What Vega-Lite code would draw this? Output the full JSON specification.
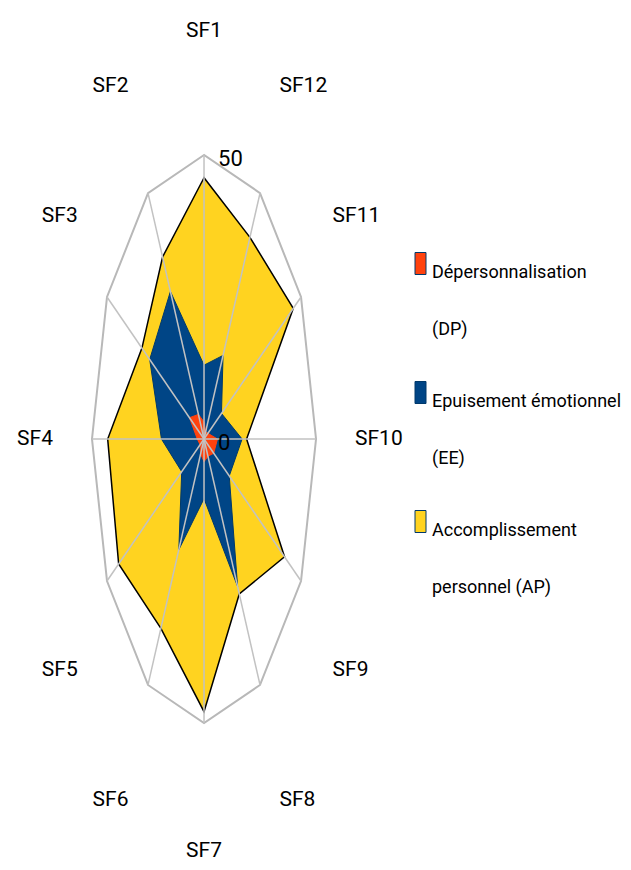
{
  "$schema": "https://vega.github.io/schema/vega-lite/v6.json",
  "width": 631,
  "height": 870,
  "autosize": {"type": "none"},
  "padding": 0,
  "background": "white",
  "config": {
    "view": {"stroke": null},
    "font": "Roboto",
    "style": {"guide-label": {"lineHeight": 57}}
  },
  "datasets": {
    "axes": [
      {"axis": "SF1", "k": 1}, {"axis": "SF2", "k": 2}, {"axis": "SF3", "k": 3},
      {"axis": "SF4", "k": 4}, {"axis": "SF5", "k": 5}, {"axis": "SF6", "k": 6},
      {"axis": "SF7", "k": 7}, {"axis": "SF8", "k": 8}, {"axis": "SF9", "k": 9},
      {"axis": "SF10", "k": 10}, {"axis": "SF11", "k": 11}, {"axis": "SF12", "k": 12}
    ],
    "ticks": [{"t": "0", "v": 0}, {"t": "50", "v": 50}],
    "scores": [
      {"series": "Accomplissement personnel (AP)", "axis": "SF1", "k": 1, "v": 46},
      {"series": "Accomplissement personnel (AP)", "axis": "SF2", "k": 2, "v": 37},
      {"series": "Accomplissement personnel (AP)", "axis": "SF3", "k": 3, "v": 32},
      {"series": "Accomplissement personnel (AP)", "axis": "SF4", "k": 4, "v": 43},
      {"series": "Accomplissement personnel (AP)", "axis": "SF5", "k": 5, "v": 44},
      {"series": "Accomplissement personnel (AP)", "axis": "SF6", "k": 6, "v": 38.5},
      {"series": "Accomplissement personnel (AP)", "axis": "SF7", "k": 7, "v": 48},
      {"series": "Accomplissement personnel (AP)", "axis": "SF8", "k": 8, "v": 31.5},
      {"series": "Accomplissement personnel (AP)", "axis": "SF9", "k": 9, "v": 41.5},
      {"series": "Accomplissement personnel (AP)", "axis": "SF10", "k": 10, "v": 19},
      {"series": "Accomplissement personnel (AP)", "axis": "SF11", "k": 11, "v": 46},
      {"series": "Accomplissement personnel (AP)", "axis": "SF12", "k": 12, "v": 41},
      {"series": "Epuisement émotionnel (EE)", "axis": "SF1", "k": 1, "v": 13},
      {"series": "Epuisement émotionnel (EE)", "axis": "SF2", "k": 2, "v": 30},
      {"series": "Epuisement émotionnel (EE)", "axis": "SF3", "k": 3, "v": 28},
      {"series": "Epuisement émotionnel (EE)", "axis": "SF4", "k": 4, "v": 19},
      {"series": "Epuisement émotionnel (EE)", "axis": "SF5", "k": 5, "v": 11.5},
      {"series": "Epuisement émotionnel (EE)", "axis": "SF6", "k": 6, "v": 22.5},
      {"series": "Epuisement émotionnel (EE)", "axis": "SF7", "k": 7, "v": 10.5},
      {"series": "Epuisement émotionnel (EE)", "axis": "SF8", "k": 8, "v": 30},
      {"series": "Epuisement émotionnel (EE)", "axis": "SF9", "k": 9, "v": 13},
      {"series": "Epuisement émotionnel (EE)", "axis": "SF10", "k": 10, "v": 17},
      {"series": "Epuisement émotionnel (EE)", "axis": "SF11", "k": 11, "v": 9},
      {"series": "Epuisement émotionnel (EE)", "axis": "SF12", "k": 12, "v": 17},
      {"series": "Dépersonnalisation (DP)", "axis": "SF1", "k": 1, "v": 3},
      {"series": "Dépersonnalisation (DP)", "axis": "SF2", "k": 2, "v": 5},
      {"series": "Dépersonnalisation (DP)", "axis": "SF3", "k": 3, "v": 7.5},
      {"series": "Dépersonnalisation (DP)", "axis": "SF4", "k": 4, "v": 3},
      {"series": "Dépersonnalisation (DP)", "axis": "SF5", "k": 5, "v": 2},
      {"series": "Dépersonnalisation (DP)", "axis": "SF6", "k": 6, "v": 3},
      {"series": "Dépersonnalisation (DP)", "axis": "SF7", "k": 7, "v": 4},
      {"series": "Dépersonnalisation (DP)", "axis": "SF8", "k": 8, "v": 3.5},
      {"series": "Dépersonnalisation (DP)", "axis": "SF9", "k": 9, "v": 5},
      {"series": "Dépersonnalisation (DP)", "axis": "SF10", "k": 10, "v": 6},
      {"series": "Dépersonnalisation (DP)", "axis": "SF11", "k": 11, "v": 2},
      {"series": "Dépersonnalisation (DP)", "axis": "SF12", "k": 12, "v": 1.5}
    ]
  },
  "layer": [
    {
      "data": {"name": "axes"},
      "transform": [
        {"calculate": "-(datum.k - 1) * PI / 6", "as": "a"},
        {"calculate": "50 * sin(datum.a)", "as": "ox"},
        {"calculate": "50 * cos(datum.a)", "as": "oy"}
      ],
      "mark": {"type": "line", "interpolate": "linear-closed", "stroke": "#b8b8b8", "strokeWidth": 2},
      "encoding": {
        "x": {"field": "ox", "type": "quantitative", "scale": {"domain": [-91.07, 190.6], "nice": false, "zero": false}, "axis": null},
        "y": {"field": "oy", "type": "quantitative", "scale": {"domain": [-75.88, 77.29], "nice": false, "zero": false}, "axis": null},
        "order": {"field": "k", "type": "quantitative"}
      }
    },
    {
      "data": {"name": "scores"},
      "transform": [
        {"filter": "datum.series == 'Accomplissement personnel (AP)'"},
        {"calculate": "-(datum.k - 1) * PI / 6", "as": "a"},
        {"calculate": "datum.v * sin(datum.a)", "as": "px"},
        {"calculate": "datum.v * cos(datum.a)", "as": "py"}
      ],
      "mark": {"type": "line", "interpolate": "linear-closed", "stroke": "#000000", "strokeWidth": 1.5},
      "encoding": {
        "x": {"field": "px", "type": "quantitative", "scale": {"domain": [-91.07, 190.6], "nice": false, "zero": false}, "axis": null},
        "y": {"field": "py", "type": "quantitative", "scale": {"domain": [-75.88, 77.29], "nice": false, "zero": false}, "axis": null},
        "order": {"field": "k", "type": "quantitative"},
        "fill": {
          "field": "series", "type": "nominal",
          "scale": {"domain": ["Dépersonnalisation (DP)", "Epuisement émotionnel (EE)", "Accomplissement personnel (AP)"], "range": ["#FF420E", "#004586", "#FFD320"]},
          "legend": {
            "orient": "none", "legendX": 409, "legendY": 252, "title": null,
            "symbolType": "M-0.5,-1H0.5V1H-0.5Z", "symbolSize": 484,
            "symbolStrokeColor": "#333333", "symbolStrokeWidth": 1, "symbolOpacity": 1,
            "labelFont": "Roboto", "labelFontSize": 18, "labelColor": "#000000",
            "labelLimit": 400, "labelBaseline": "top", "labelOffset": 0, "rowPadding": 40,
            "labelExpr": "datum.label == 'Accomplissement personnel (AP)' ? ['Accomplissement', 'personnel (AP)'] : [slice(datum.label, 0, lastindexof(datum.label, ' ')), slice(datum.label, lastindexof(datum.label, ' ') + 1)]"
          }
        }
      }
    },
    {
      "data": {"name": "scores"},
      "transform": [
        {"filter": "datum.series == 'Epuisement émotionnel (EE)'"},
        {"calculate": "-(datum.k - 1) * PI / 6", "as": "a"},
        {"calculate": "datum.v * sin(datum.a)", "as": "px"},
        {"calculate": "datum.v * cos(datum.a)", "as": "py"}
      ],
      "mark": {"type": "line", "interpolate": "linear-closed", "stroke": "#00396b", "strokeWidth": 1},
      "encoding": {
        "x": {"field": "px", "type": "quantitative", "scale": {"domain": [-91.07, 190.6], "nice": false, "zero": false}, "axis": null},
        "y": {"field": "py", "type": "quantitative", "scale": {"domain": [-75.88, 77.29], "nice": false, "zero": false}, "axis": null},
        "order": {"field": "k", "type": "quantitative"},
        "fill": {"field": "series", "type": "nominal"}
      }
    },
    {
      "data": {"name": "scores"},
      "transform": [
        {"filter": "datum.series == 'Dépersonnalisation (DP)'"},
        {"calculate": "-(datum.k - 1) * PI / 6", "as": "a"},
        {"calculate": "datum.v * sin(datum.a)", "as": "px"},
        {"calculate": "datum.v * cos(datum.a)", "as": "py"}
      ],
      "mark": {"type": "line", "interpolate": "linear-closed", "stroke": "#FF420E", "strokeWidth": 1},
      "encoding": {
        "x": {"field": "px", "type": "quantitative", "scale": {"domain": [-91.07, 190.6], "nice": false, "zero": false}, "axis": null},
        "y": {"field": "py", "type": "quantitative", "scale": {"domain": [-75.88, 77.29], "nice": false, "zero": false}, "axis": null},
        "order": {"field": "k", "type": "quantitative"},
        "fill": {"field": "series", "type": "nominal"}
      }
    },
    {
      "data": {"name": "axes"},
      "transform": [
        {"calculate": "-(datum.k - 1) * PI / 6", "as": "a"},
        {"calculate": "0", "as": "z"},
        {"calculate": "50 * sin(datum.a)", "as": "ox"},
        {"calculate": "50 * cos(datum.a)", "as": "oy"}
      ],
      "mark": {"type": "rule", "stroke": "#c2c2c2", "strokeWidth": 1.5},
      "encoding": {
        "x": {"field": "z", "type": "quantitative", "scale": {"domain": [-91.07, 190.6], "nice": false, "zero": false}, "axis": null},
        "y": {"field": "z", "type": "quantitative", "scale": {"domain": [-75.88, 77.29], "nice": false, "zero": false}, "axis": null},
        "x2": {"field": "ox"},
        "y2": {"field": "oy"}
      }
    },
    {
      "data": {"name": "axes"},
      "transform": [
        {"calculate": "-(datum.k - 1) * PI / 6", "as": "a"},
        {"calculate": "sin(datum.a)", "as": "s"},
        {"calculate": "cos(datum.a)", "as": "c"},
        {"filter": "datum.s < -0.01"},
        {"calculate": "67.41 * datum.s + (abs(abs(datum.s) - 0.866) < 0.01 ? 2 : 0)", "as": "lx"},
        {"calculate": "72.18 * datum.c + (abs(datum.c) < 0.01 ? 0 : ((abs(datum.c) < 0.6 ? 3.5 * (datum.c > 0 ? 1 : -1) : 0) - 0.4 - (datum.c < 0 ? 0.6 : 0)))", "as": "ly"}
      ],
      "mark": {"type": "text", "font": "Roboto", "fontSize": 21, "color": "#000000", "align": "right", "baseline": "middle"},
      "encoding": {
        "x": {"field": "lx", "type": "quantitative", "scale": {"domain": [-91.07, 190.6], "nice": false, "zero": false}, "axis": null},
        "y": {"field": "ly", "type": "quantitative", "scale": {"domain": [-75.88, 77.29], "nice": false, "zero": false}, "axis": null},
        "text": {"field": "axis", "type": "nominal"}
      }
    },
    {
      "data": {"name": "axes"},
      "transform": [
        {"calculate": "-(datum.k - 1) * PI / 6", "as": "a"},
        {"calculate": "sin(datum.a)", "as": "s"},
        {"calculate": "cos(datum.a)", "as": "c"},
        {"filter": "datum.s > 0.01"},
        {"calculate": "67.41 * datum.s - (abs(abs(datum.s) - 0.866) < 0.01 ? 1 : 0)", "as": "lx"},
        {"calculate": "72.18 * datum.c + (abs(datum.c) < 0.01 ? 0 : ((abs(datum.c) < 0.6 ? 3.5 * (datum.c > 0 ? 1 : -1) : 0) - 0.4 - (datum.c < 0 ? 0.6 : 0)))", "as": "ly"}
      ],
      "mark": {"type": "text", "font": "Roboto", "fontSize": 21, "color": "#000000", "align": "left", "baseline": "middle"},
      "encoding": {
        "x": {"field": "lx", "type": "quantitative", "scale": {"domain": [-91.07, 190.6], "nice": false, "zero": false}, "axis": null},
        "y": {"field": "ly", "type": "quantitative", "scale": {"domain": [-75.88, 77.29], "nice": false, "zero": false}, "axis": null},
        "text": {"field": "axis", "type": "nominal"}
      }
    },
    {
      "data": {"name": "axes"},
      "transform": [
        {"calculate": "-(datum.k - 1) * PI / 6", "as": "a"},
        {"calculate": "sin(datum.a)", "as": "s"},
        {"calculate": "cos(datum.a)", "as": "c"},
        {"filter": "abs(datum.s) <= 0.01"},
        {"calculate": "0", "as": "lx"},
        {"calculate": "72.18 * datum.c - 0.4", "as": "ly"}
      ],
      "mark": {"type": "text", "font": "Roboto", "fontSize": 21, "color": "#000000", "align": "center", "baseline": "middle"},
      "encoding": {
        "x": {"field": "lx", "type": "quantitative", "scale": {"domain": [-91.07, 190.6], "nice": false, "zero": false}, "axis": null},
        "y": {"field": "ly", "type": "quantitative", "scale": {"domain": [-75.88, 77.29], "nice": false, "zero": false}, "axis": null},
        "text": {"field": "axis", "type": "nominal"}
      }
    },
    {
      "data": {"name": "ticks"},
      "transform": [{"calculate": "0", "as": "z"}],
      "mark": {"type": "text", "font": "Roboto", "fontSize": 22, "color": "#000000", "align": "left", "baseline": "middle", "dx": 14, "dy": 4},
      "encoding": {
        "x": {"field": "z", "type": "quantitative", "scale": {"domain": [-91.07, 190.6], "nice": false, "zero": false}, "axis": null},
        "y": {"field": "v", "type": "quantitative", "scale": {"domain": [-75.88, 77.29], "nice": false, "zero": false}, "axis": null},
        "text": {"field": "t", "type": "nominal"}
      }
    }
  ]
}
